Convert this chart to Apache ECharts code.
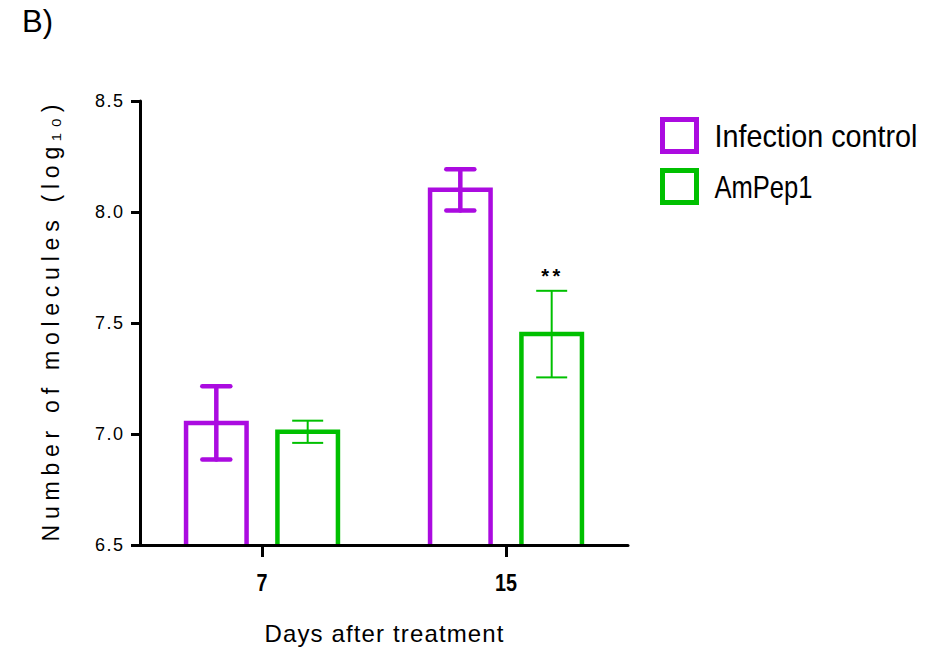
<!DOCTYPE html>
<html>
<head>
<meta charset="utf-8">
<script src="https://cdn.jsdelivr.net/npm/echarts@6/dist/echarts.min.js"></script>
<style>
html,body{margin:0;padding:0;background:#fff;}
#chart{width:947px;height:652px;}
</style>
</head>
<body>
<div id="chart"></div>
<script>
// ---- data ----
const categories = ['7', '15'];
const seriesNames = ['Infection control', 'AmPep1'];
const controlMean = [7.05, 8.10];
const controlErr = [0.165, 0.093];
const ampepMean = [7.01, 7.45];
const ampepErr = [0.05, 0.195];
const controlSig = ['', ''];
const ampepSig = ['', '**'];
const yMin = 6.5, yMax = 8.5, yStep = 0.5;
const panelLabel = 'B)';
const xTitle = 'Days after treatment';
const yTitle = 'Number of molecules (log\u2081\u2080)';

// ---- style ----
const PURPLE = '#ab0be0';
const GREEN = '#00c000';
const SANS = "Liberation Sans, Arial, sans-serif";
const BAR_W = 0.248;   // bar width as fraction of category band
const BAR_GAP = 0.51;  // gap between bars as fraction of bar width

function groupSeries(idx, mean, err, sig, color, barLw, errLw, capW, lineCap) {
  return {
    type: 'custom',
    name: seriesNames[idx],
    itemStyle: { color: '#fff', borderColor: color, borderWidth: 5 },
    encode: { x: 0, y: 1 },
    data: mean.map((m, i) => [i, m, err[i]]),
    renderItem(params, api) {
      const i = params.dataIndex;
      const ci = api.value(0);
      const m = api.value(1);
      const e = api.value(2);
      const band = api.size([1, 0])[0];
      const bw = band * BAR_W;
      const gap = bw * BAR_GAP;
      const total = 2 * bw + gap;
      const off = -total / 2 + bw / 2 + idx * (bw + gap);
      const top = api.coord([ci, m]);
      const base = api.coord([ci, yMin]);
      const hi = api.coord([ci, m + e]);
      const lo = api.coord([ci, m - e]);
      const x = top[0] + off;
      const x0 = x - bw / 2, x1 = x + bw / 2;
      const errStyle = { stroke: color, lineWidth: errLw, lineCap: lineCap, fill: null };
      const half = capW / 2;
      const children = [
        { type: 'polyline', shape: { points: [[x0, base[1]], [x0, top[1]], [x1, top[1]], [x1, base[1]]] },
          style: { stroke: color, lineWidth: barLw, fill: null, lineJoin: 'miter' } },
        { type: 'line', shape: { x1: x, y1: lo[1], x2: x, y2: hi[1] }, style: errStyle },
        { type: 'line', shape: { x1: x - half, y1: hi[1], x2: x + half, y2: hi[1] }, style: errStyle },
        { type: 'line', shape: { x1: x - half, y1: lo[1], x2: x + half, y2: lo[1] }, style: errStyle }
      ];
      if (sig[i]) {
        children.push({ type: 'text', x: x - 1, y: hi[1] - 15,
          style: { text: sig[i], fill: '#000', font: 'bold 20px ' + SANS, align: 'center', verticalAlign: 'middle' } });
      }
      return { type: 'group', children };
    }
  };
}

const chart = echarts.init(document.getElementById('chart'), null, { renderer: 'svg' });
chart.setOption({
  animation: false,
  backgroundColor: '#fff',
  graphic: [{
    type: 'text', left: 22, top: 6,
    style: { text: panelLabel, font: '31px ' + SANS, fill: '#000' }
  }],
  legend: {
    orient: 'vertical', left: 655, top: 112, padding: 5,
    itemWidth: 34, itemHeight: 32, itemGap: 14,
    icon: 'rect',
    selectedMode: false,
    textStyle: { fontSize: 32, fontFamily: SANS, color: '#000', lineHeight: 36, padding: [0, 0, 0, 13] },
    data: [
      { name: seriesNames[0], itemStyle: { color: '#fff', borderColor: PURPLE, borderWidth: 5 } },
      { name: seriesNames[1], itemStyle: { color: '#fff', borderColor: GREEN, borderWidth: 5 } }
    ]
  },
  grid: { left: 140, top: 101, width: 488, height: 444, containLabel: false },
  xAxis: {
    type: 'category', data: categories, boundaryGap: true, z: 10,
    axisLine: { show: true, lineStyle: { color: '#000', width: 3 } },
    axisTick: { show: true, alignWithLabel: true, length: 12, lineStyle: { color: '#000', width: 3 } },
    axisLabel: { color: '#000', fontFamily: SANS, fontWeight: 'bold', fontSize: 23, margin: 26 },
    name: xTitle, nameLocation: 'middle', nameGap: 76,
    nameTextStyle: { color: '#000', fontFamily: SANS, fontSize: 24 },
    splitLine: { show: false }
  },
  yAxis: {
    type: 'value', min: yMin, max: yMax, interval: yStep, z: 10,
    axisLine: { show: true, lineStyle: { color: '#000', width: 3 } },
    axisTick: { show: true, length: 9, lineStyle: { color: '#000', width: 3 } },
    axisLabel: { color: '#000', fontFamily: SANS, fontSize: 18, margin: 17, formatter: v => v.toFixed(1) },
    splitLine: { show: false },
    name: yTitle, nameLocation: 'middle', nameRotate: 90, nameGap: 78,
    nameTextStyle: { color: '#000', fontFamily: SANS, fontSize: 23 }
  },
  series: [
    groupSeries(0, controlMean, controlErr, controlSig, PURPLE, 4.5, 4.5, 28, 'round'),
    groupSeries(1, ampepMean, ampepErr, ampepSig, GREEN, 4.5, 2, 31, 'butt')
  ]
});

// text lengths measured on the reference (condensed / letter-spaced lettering)
const textFit = {};
textFit[yTitle] = [437, 'spacing'];
textFit[xTitle] = [239, 'spacing'];
textFit['**'] = [19, 'spacing'];
textFit[seriesNames[0]] = [203, 'spacingAndGlyphs'];
textFit[seriesNames[1]] = [98, 'spacingAndGlyphs'];
textFit['15'] = [22, 'spacingAndGlyphs'];
textFit['7'] = [11, 'spacingAndGlyphs'];
['6.5', '7.0', '7.5', '8.0', '8.5'].forEach(s => { textFit[s] = [28, 'spacing']; });

function applyFit() {
  document.querySelectorAll('#chart text').forEach(t => {
    const f = textFit[t.textContent];
    if (f) {
      t.setAttribute('textLength', f[0]);
      t.setAttribute('lengthAdjust', f[1]);
    }
  });
}
applyFit();
chart.on('finished', applyFit);
setTimeout(applyFit, 50);
</script>
</body>
</html>
